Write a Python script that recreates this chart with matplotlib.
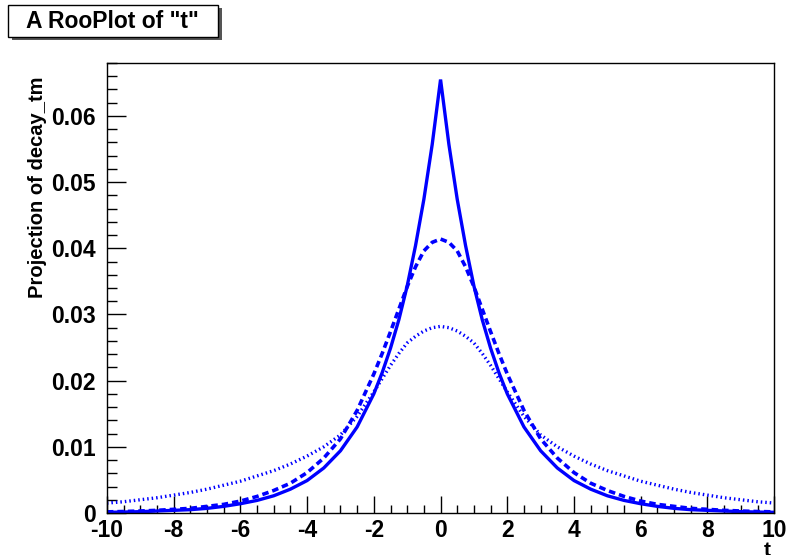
import matplotlib.pyplot as plt
from matplotlib.patches import Rectangle
from matplotlib.ticker import MultipleLocator

plt.rcParams["font.family"] = ["Liberation Sans", "DejaVu Sans"]
plt.rcParams["font.weight"] = "bold"

# values
t = [-10, -9.5, -9, -8.5, -8, -7.5, -7, -6.5, -6, -5.5, -5, -4.5, -4, -3.5, -3, -2.5,
     -2, -1.75, -1.5, -1.25, -1, -0.75, -0.5, -0.25, 0, 0.25, 0.5, 0.75, 1, 1.25, 1.5, 1.75,
     2, 2.5, 3, 3.5, 4, 4.5, 5, 5.5, 6, 6.5, 7, 7.5, 8, 8.5, 9, 9.5, 10]

solid = [0.0001, 0.00014, 0.0002, 0.0003, 0.0004, 0.0005, 0.0007, 0.0010, 0.0014, 0.0019,
         0.0026, 0.0036, 0.0049, 0.0068, 0.0094, 0.0130,
         0.0180, 0.0212, 0.0249, 0.0292, 0.0343, 0.0404, 0.0474, 0.0557, 0.0655,
         0.0557, 0.0474, 0.0404, 0.0343, 0.0292, 0.0249, 0.0212,
         0.0180, 0.0130, 0.0094, 0.0068, 0.0049, 0.0036, 0.0026, 0.0019, 0.0014,
         0.0010, 0.0007, 0.0005, 0.0004, 0.0003, 0.0002, 0.00014, 0.0001]

dashed = [0.00017, 0.00022, 0.0003, 0.0004, 0.00055, 0.0007, 0.0010, 0.0013, 0.0018, 0.0025,
          0.0034, 0.0045, 0.0061, 0.0083, 0.0112, 0.0155,
          0.0210, 0.0241, 0.0274, 0.0308, 0.0342, 0.0372, 0.0396, 0.0409, 0.0414,
          0.0409, 0.0396, 0.0372, 0.0342, 0.0308, 0.0274, 0.0241,
          0.0210, 0.0155, 0.0112, 0.0083, 0.0061, 0.0045, 0.0034, 0.0025, 0.0018,
          0.0013, 0.0010, 0.0007, 0.00055, 0.0004, 0.0003, 0.00022, 0.00017]

dotted = [0.0015, 0.0017, 0.0020, 0.0023, 0.0027, 0.0031, 0.0036, 0.0042, 0.0048, 0.0056,
          0.0064, 0.0074, 0.0086, 0.0100, 0.0118, 0.0146,
          0.0183, 0.0203, 0.0223, 0.0241, 0.0257, 0.0267, 0.0275, 0.0280, 0.0282,
          0.0280, 0.0275, 0.0267, 0.0257, 0.0241, 0.0223, 0.0203,
          0.0183, 0.0146, 0.0118, 0.0100, 0.0086, 0.0074, 0.0064, 0.0056, 0.0048,
          0.0042, 0.0036, 0.0031, 0.0027, 0.0023, 0.0020, 0.0017, 0.0015]

fig = plt.figure(figsize=(7.86, 5.55), dpi=100)
ax = fig.add_axes([0.136, 0.0757, 0.849, 0.8108])

blue = "#0000ff"
ax.plot(t, solid, color=blue, lw=2.4, solid_joinstyle="miter")
ax.plot(t, dashed, color=blue, lw=2.6, linestyle=(0, (1.8, 1.1)))
ax.plot(t, dotted, color=blue, lw=2.4, linestyle=(0, (0.45, 0.9)))

ax.set_xlim(-10, 10)
ax.set_ylim(0, 0.068)

ax.xaxis.set_minor_locator(MultipleLocator(0.5))
ax.yaxis.set_minor_locator(MultipleLocator(0.002))
ax.set_yticks([0, 0.01, 0.02, 0.03, 0.04, 0.05, 0.06])
ax.set_yticklabels(["0", "0.01", "0.02", "0.03", "0.04", "0.05", "0.06"])
ax.set_xticks([-10, -8, -6, -4, -2, 0, 2, 4, 6, 8, 10])
ax.set_xticklabels(["-10", "-8", "-6", "-4", "-2", "0", "2", "4", "6", "8", "10"])

ax.tick_params(which="both", direction="in", top=False, right=False,
               labelsize=16.5, width=1, color="black")
ax.tick_params(axis="y", which="major", length=14, pad=8)
ax.tick_params(axis="y", which="minor", length=7)
ax.tick_params(axis="x", which="major", length=12, pad=4)
ax.tick_params(axis="x", which="minor", length=6)
for lab in ax.get_xticklabels() + ax.get_yticklabels():
    lab.set_fontweight("bold")

for s in ax.spines.values():
    s.set_linewidth(1.0)

ax.set_ylabel("Projection of decay_tm", fontsize=14.5, fontweight="bold", loc="top")
ax.yaxis.label.set_va("center")
ax.yaxis.set_label_coords(-0.1035, 0.969)

ax.set_xlabel("t", fontsize=15, fontweight="bold")
ax.xaxis.set_label_coords(0.995, -0.062)
ax.xaxis.label.set_va("top")
ax.xaxis.label.set_ha("right")

# title box with shadow
fig.patches.append(Rectangle((12 / 786, 1 - 40 / 555), 210 / 786, 32 / 555,
                             transform=fig.transFigure, facecolor="#555555",
                             edgecolor="none", zorder=1))
fig.patches.append(Rectangle((8 / 786, 1 - 37 / 555), 210 / 786, 32 / 555,
                             transform=fig.transFigure, facecolor="white",
                             edgecolor="black", lw=1, zorder=2))
fig.text(112 / 786, 1 - 21 / 555, 'A RooPlot of "t"', ha="center", va="center",
         fontsize=16.5, fontweight="bold", zorder=3)

fig.savefig("out.png", dpi=100)
